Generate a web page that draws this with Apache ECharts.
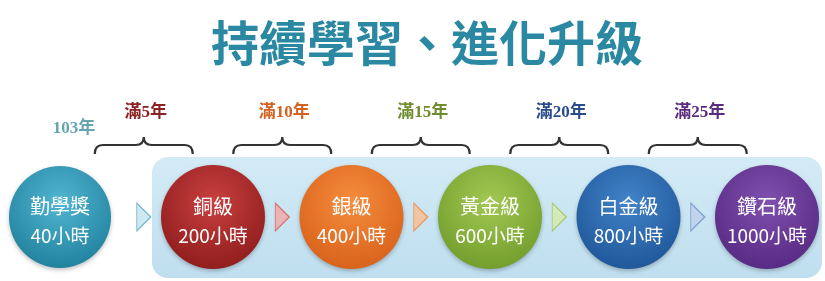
<!DOCTYPE html>
<html>
<head>
<meta charset="utf-8">
<script src="https://cdn.jsdelivr.net/npm/echarts@6/dist/echarts.min.js"></script>
<style>
html, body { margin: 0; padding: 0; background: #fff; }
#main { width: 825px; height: 281px; }
</style>
</head>
<body>
<div id="main"></div>
<script>
// data
var titleText  = '持續學習、進化升級';
var startName  = '勤學獎';
var startHours = 40;
var startYear  = '103年';
var levelNames = ['銅級', '銀級', '黃金級', '白金級', '鑽石級'];
var levelHours = [200, 400, 600, 800, 1000];
var levelYears = ['滿5年', '滿10年', '滿15年', '滿20年', '滿25年'];

// styles
var circleTop    = ['#52b6d1', '#c94040', '#f58d3e', '#a3c853', '#4283c8', '#8050ae'];
var circleBottom = ['#1b7b98', '#881818', '#d55c16', '#6c9827', '#1b5293', '#52257e'];
var arrowFill    = ['#c2e2ef', '#f3a6a6', '#f9bd8e', '#d6eba9', '#bed0ea'];
var arrowLine    = ['#5aa8c8', '#d65a5a', '#ec8a48', '#9cc45a', '#6e90c4'];
var yearColor    = ['#8c2121', '#d2621f', '#6f8c2e', '#2b4c8c', '#5b2c7d'];

var myChart = echarts.init(document.getElementById('main'));

function ball(i) {
  return new echarts.graphic.RadialGradient(0.5, 0.35, 0.75, [
    { offset: 0, color: circleTop[i] },
    { offset: 1, color: circleBottom[i] }
  ]);
}

var ballLabel = {
  show: true,
  position: 'inside',
  offset: [0, 4],
  color: '#fff',
  fontFamily: '"Noto Sans CJK TC"',
  rich: {
    n: { fontSize: 20, lineHeight: 29, color: '#fff', fontFamily: '"Noto Sans CJK TC"' },
    h: { fontSize: 19, lineHeight: 29, color: '#fff', fontFamily: '"Noto Sans CJK TC"' }
  }
};

var startData = [{
  value: [startName, 0],
  itemStyle: { color: ball(0) },
  label: { formatter: '{n|' + startName + '}\n{h|' + startHours + '小時}' }
}];

var levelData = levelNames.map(function (n, i) {
  return {
    value: [i, 0],
    itemStyle: { color: ball(i + 1) },
    label: { formatter: '{n|' + n + '}\n{h|' + levelHours[i] + '小時}' }
  };
});

var arrowData = levelNames.map(function (n, i) {
  return {
    value: [i - 0.5, 0],
    itemStyle: { color: arrowFill[i], borderColor: arrowLine[i], borderWidth: 1.2 }
  };
});

var braceData = levelYears.map(function (y, i) {
  return [i - 0.5, 0, i];
});

function renderBrace(params, api) {
  var i = api.value(2);
  var p = api.coord([api.value(0), 0]);
  var x = p[0], y = p[1] - 72;
  var w = 49;
  var path = 'M' + (x - w) + ' ' + (y + 9) +
    ' Q' + (x - w) + ' ' + y + ' ' + (x - w + 8) + ' ' + y +
    ' L' + (x - 8) + ' ' + y +
    ' Q' + x + ' ' + y + ' ' + x + ' ' + (y - 8) +
    ' Q' + x + ' ' + y + ' ' + (x + 8) + ' ' + y +
    ' L' + (x + w - 8) + ' ' + y +
    ' Q' + (x + w) + ' ' + y + ' ' + (x + w) + ' ' + (y + 9);
  return {
    type: 'group',
    children: [{
      type: 'path',
      shape: { pathData: path },
      style: { fill: null, stroke: '#333', lineWidth: 2.2 }
    }, {
      type: 'text',
      x: x + 2,
      y: p[1] - 104,
      style: {
        text: levelYears[i],
        fill: yearColor[i],
        font: 'bold 17px "Liberation Serif", "Noto Sans CJK TC"',
        align: 'center',
        verticalAlign: 'middle'
      }
    }]
  };
}

var option = {
  animation: false,
  grid: [
    { left: 10, width: 100, top: 166, height: 102 },
    { left: 213, right: 58, top: 166, height: 102 }
  ],
  xAxis: [
    { gridIndex: 0, type: 'category', data: [startName], show: false },
    { gridIndex: 1, type: 'value', min: 0, max: levelNames.length - 1, show: false }
  ],
  yAxis: [
    { gridIndex: 0, type: 'value', min: -1, max: 1, show: false },
    { gridIndex: 1, type: 'value', min: -1, max: 1, show: false }
  ],
  graphic: [
    {
      type: 'rect',
      left: 152, top: 157, z: -10,
      shape: { width: 670, height: 121, r: 16 },
      style: {
        fill: new echarts.graphic.LinearGradient(0, 0, 0, 1, [
          { offset: 0, color: '#d3ebf6' },
          { offset: 1, color: '#bfdeef' }
        ])
      }
    },
    {
      type: 'text',
      x: 427, y: 43, z: 10,
      style: {
        text: titleText,
        font: 'bold 48px "Noto Sans CJK TC"',
        align: 'center',
        verticalAlign: 'middle',
        fill: '#2a88a2',
        shadowColor: 'rgba(70,130,160,0.5)',
        shadowBlur: 4,
        shadowOffsetY: 3
      }
    }
  ],
  series: [
    {
      type: 'scatter',
      xAxisIndex: 0, yAxisIndex: 0,
      symbolSize: 102,
      itemStyle: { shadowBlur: 4, shadowColor: 'rgba(0,0,0,0.25)', shadowOffsetY: 2, opacity: 1 },
      label: ballLabel,
      data: startData
    },
    {
      type: 'scatter',
      xAxisIndex: 0, yAxisIndex: 0,
      symbolSize: 0,
      label: {
        show: true,
        offset: [14, -88],
        position: 'inside',
        formatter: startYear,
        color: '#3f8f9f',
        fontSize: 17,
        fontWeight: 'bold',
        fontFamily: '"Liberation Serif", "Noto Sans CJK TC"'
      },
      data: [[startName, 0]]
    },
    {
      type: 'scatter',
      xAxisIndex: 1, yAxisIndex: 1,
      symbolSize: 104,
      clip: false,
      itemStyle: { shadowBlur: 4, shadowColor: 'rgba(0,0,0,0.25)', shadowOffsetY: 2, opacity: 1 },
      label: ballLabel,
      data: levelData
    },
    {
      type: 'scatter',
      xAxisIndex: 1, yAxisIndex: 1,
      symbol: 'triangle',
      symbolRotate: -90,
      symbolSize: [28, 14],
      clip: false,
      data: arrowData
    },
    {
      type: 'custom',
      xAxisIndex: 1, yAxisIndex: 1,
      clip: false,
      renderItem: renderBrace,
      data: braceData
    }
  ]
};

myChart.setOption(option);

window.addEventListener('resize', function () {
  myChart.resize();
});
</script>
</body>
</html>
